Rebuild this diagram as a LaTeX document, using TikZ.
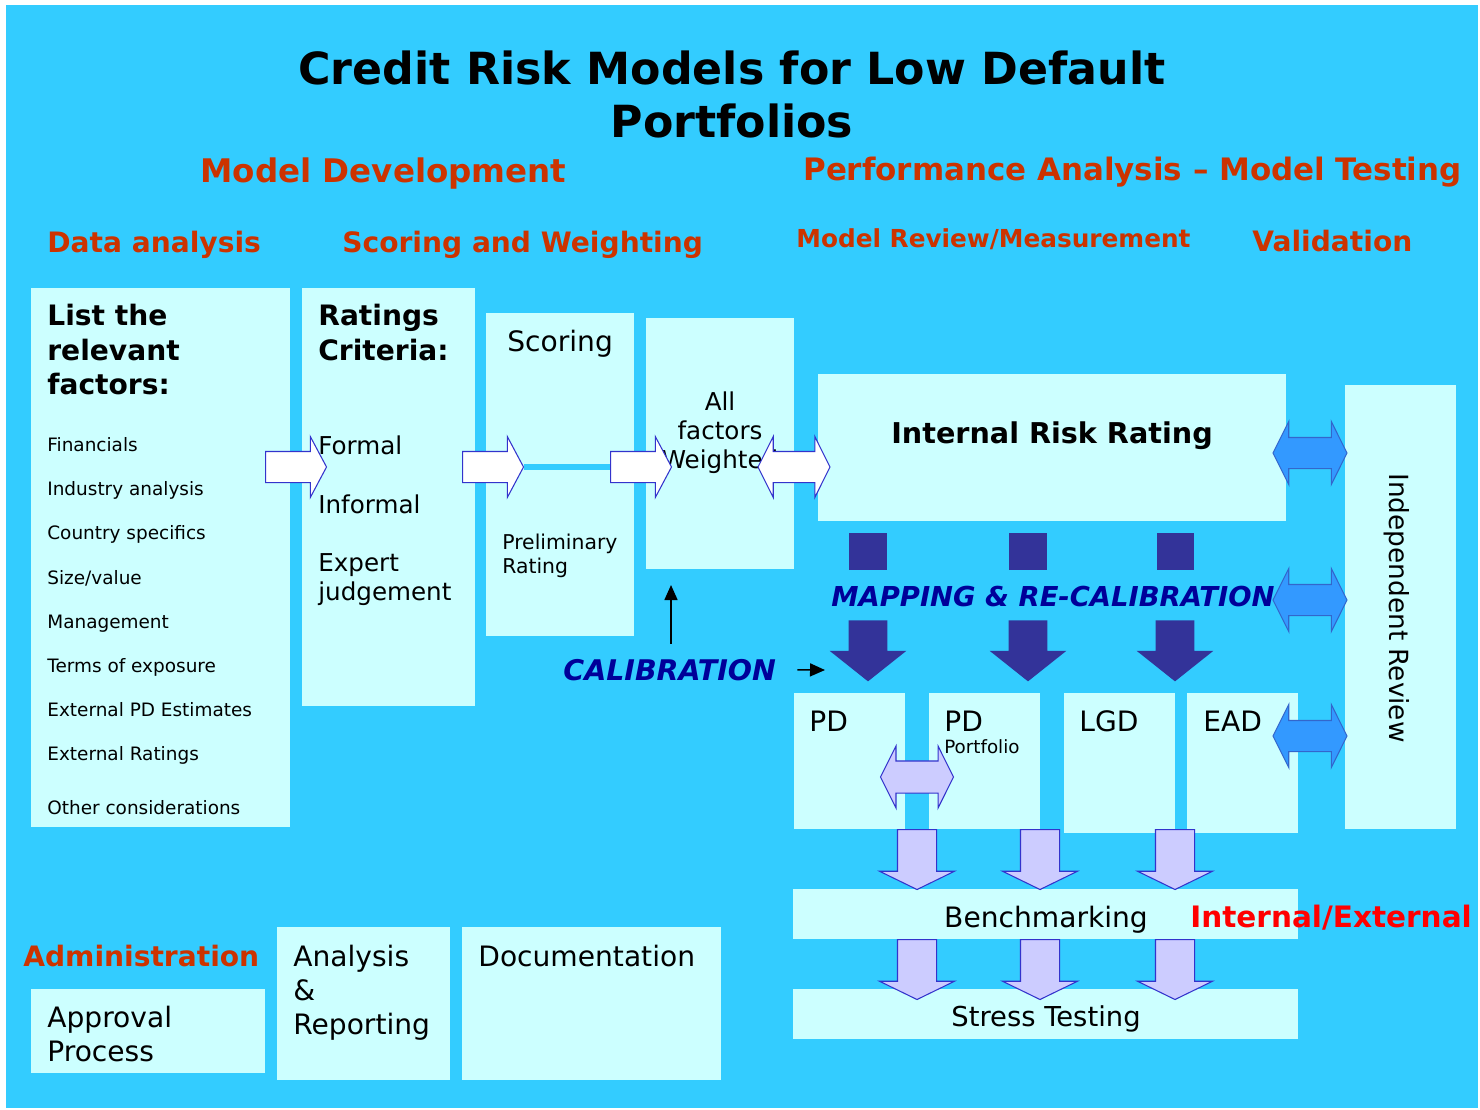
\documentclass[tikz,border=0pt]{standalone}
\usepackage{fontspec}
\setmainfont{DejaVu Sans}
\usetikzlibrary{shapes.arrows,arrows.meta,fit}

\definecolor{sky}{HTML}{33CCFF}
\definecolor{pale}{HTML}{CCFFFF}
\definecolor{rust}{HTML}{CC3300}
\definecolor{navy}{HTML}{333399}
\definecolor{ink}{HTML}{000099}
\definecolor{azure}{HTML}{3399FF}
\definecolor{azureline}{HTML}{3366CC}
\definecolor{lilac}{HTML}{CCCCFF}
\definecolor{edge}{HTML}{3333CC}
\newcommand{\fsize}[2]{\fontsize{#1pt}{#2pt}\selectfont}

\begin{document}
\begin{tikzpicture}[x=0.02cm,y=-0.02cm]
  \tikzstyle{box}=[fill=pale,inner sep=0pt]
  \tikzstyle{txt}=[inner sep=0pt,anchor=base west]
  \tikzstyle{lines}=[inner sep=0pt,anchor=north west,align=left]
  \tikzstyle{head}=[txt,text=rust,font=\bfseries\fsize{16}{19.6}]
  \tikzstyle{calfont}=[txt,text=ink,font=\bfseries\itshape\fsize{16.2}{19}]
  \tikzstyle{warrow}=[single arrow,draw=edge,fill=white,line width=0.6pt,
      minimum height=1.22cm,minimum width=1.2cm,single arrow head extend=0.3cm,
      single arrow tip angle=124,inner xsep=0pt,inner ysep=0.3cm,anchor=tail]
  \tikzstyle{wdouble}=[double arrow,draw=edge,fill=white,line width=0.6pt,
      minimum height=1.44cm,minimum width=1.2cm,double arrow head extend=0.3cm,
      double arrow tip angle=127,inner xsep=0pt,inner ysep=0.3cm]
  \tikzstyle{bdouble}=[double arrow,draw=azureline,fill=azure,line width=0.6pt,
      minimum height=1.48cm,minimum width=1.24cm,double arrow head extend=0.32cm,
      double arrow tip angle=127,inner xsep=0pt,inner ysep=0.3cm]
  \tikzstyle{ldouble}=[double arrow,draw=edge,fill=lilac,line width=0.6pt,
      minimum height=1.46cm,minimum width=1.22cm,double arrow head extend=0.3cm,
      double arrow tip angle=127,inner xsep=0pt,inner ysep=0.31cm]
  \tikzstyle{ldown}=[single arrow,draw=edge,fill=lilac,line width=0.6pt,rotate=-90,
      minimum height=1.2cm,minimum width=1.48cm,single arrow head extend=0.36cm,
      single arrow tip angle=128,inner xsep=0pt,inner ysep=0.38cm,anchor=tail]
  \tikzstyle{ndown}=[single arrow,fill=navy,rotate=-90,
      minimum height=1.22cm,minimum width=1.52cm,single arrow head extend=0.38cm,
      single arrow tip angle=103,inner xsep=0pt,inner ysep=0.38cm,anchor=tail]
  \tikzstyle{pointer}=[-{Triangle[length=0.3cm,width=0.26cm]},line width=0.9pt]

  % background
  \fill[white] (0,0) rectangle (1480,1109);
  \fill[sky] (6,5) rectangle (1478,1108);
  \useasboundingbox (0,0) rectangle (1480,1109);

  % titles
  \node[lines,anchor=north,align=center,font=\bfseries\fsize{25.2}{30}] (title) at (732,51)
       {Credit Risk Models for Low Default\\Portfolios};
  \node[head,font=\bfseries\fsize{18.5}{23}] (dev) at (200,182) {Model Development};
  \node[head,font=\bfseries\fsize{17.6}{21}] (perf) at (803,180) {Performance Analysis -- Model Testing};
  \node[head] (data) at (47,252) {Data analysis};
  \node[head] (sw) at (342,252) {Scoring and Weighting};
  \node[head,font=\bfseries\fsize{14.1}{17}] (review) at (796,247) {Model Review/Measurement};
  \node[head] (valid) at (1252,251) {Validation};

  % boxes
  \node[box,fit={(31,288) (290,827)}] (list) {};
  \node[box,fit={(302,288) (475,706)}] (crit) {};
  \node[box,fit={(486,313) (634,636)}] (score) {};
  \node[box,fit={(646,318) (794,569)}] (allf) {};
  \node[box,fit={(818,374) (1286,521)}] (irr) {};
  \node[box,fit={(1345,385) (1456,829)}] (indep) {};
  \node[box,fit={(794,693) (905,829)}] (pd) {};
  \node[box,fit={(929,693) (1040,829)}] (pdp) {};
  \node[box,fit={(1064,693) (1175,833)}] (lgd) {};
  \node[box,fit={(1187,693) (1298,833)}] (ead) {};
  \node[box,fit={(793,889) (1298,939)}] (bench) {};
  \node[box,fit={(793,989) (1298,1039)}] (stress) {};
  \node[box,fit={(31,989) (265,1073)}] (appr) {};
  \node[box,fit={(277,927) (450,1080)}] (anal) {};
  \node[box,fit={(462,927) (721,1080)}] (docu) {};

  % texts under the arrows
  \node[lines,font=\bfseries\fsize{16}{19.6}] (listhd) at (47,304) {List the\\relevant\\factors:};
  \foreach \y/\t [count=\i] in {451/Financials,495/Industry analysis,539/Country specifics,
      584/{Size/value},628/Management,672/Terms of exposure,716/External PD Estimates,
      760/External Ratings,814/Other considerations}
    \node[txt,font=\fsize{10.5}{13}] (item\i) at (47,\y) {\t};
  \node[lines,font=\bfseries\fsize{16}{19.6}] (crithd) at (318,304) {Ratings\\Criteria:};
  \node[txt,font=\fsize{16}{19.6}] (scorehd) at (507,351) {Scoring};
  \node[lines,font=\fsize{11.6}{13.6}] (prelim) at (502,534) {Preliminary\\Rating};
  \node[lines,anchor=north,align=center,font=\fsize{14}{16.7}] (weighted) at (720,391)
       {All\\factors\\Weighted};
  \node[txt,anchor=base,font=\bfseries\fsize{16.3}{19}] (irrtext) at (1052,443) {Internal Risk Rating};
  \node[inner sep=0pt,rotate=-90,font=\fsize{15}{18}] (indeptext) at (1397,608) {Independent Review};

  % scoring chain
  \node[warrow] (a1) at (265,467) {};
  \node[warrow] (a2) at (462,467) {};
  \node[warrow] (a3) at (610,467) {};
  \draw[sky,line width=3.4pt] (a2.tip) -- (a3.tail);
  \node[wdouble] (a4) at (794,467) {};

  % review links
  \node[bdouble] (r1) at (1310,453) {};
  \node[bdouble] (r2) at (1310,600) {};
  \node[bdouble] (r3) at (1310,736) {};

  % mapping
  \node[fill=navy,inner sep=0pt,fit={(849,533) (887,570)}] (m1) {};
  \node[fill=navy,inner sep=0pt,fit={(1009,533) (1047,570)}] (m2) {};
  \node[fill=navy,inner sep=0pt,fit={(1157,533) (1194,570)}] (m3) {};
  \node[ndown] (n1) at (868,620) {};
  \node[ndown] (n2) at (1028,620) {};
  \node[ndown] (n3) at (1175,620) {};
  \node[calfont,font=\bfseries\itshape\fsize{15.6}{18}] (mapping) at (831,606) {MAPPING \& RE-CALIBRATION};
  \node[calfont] (calib) at (563,680) {CALIBRATION};
  \coordinate (calup) at (671,585);
  \coordinate (calend) at (825,670);
  \draw[pointer,shorten <=0.3cm] (calib.north -| calup) -- (calup);
  \draw[pointer,shorten <=0.42cm] (calib.east) -- (calend);

  % testing
  \node[ldouble] (pp) at (917,777) {};
  \node[ldown] (b1) at (917,829) {};
  \node[ldown] (b2) at (1040,829) {};
  \node[ldown] (b3) at (1175,829) {};
  \node[ldown] (s1) at (917,939) {};
  \node[ldown] (s2) at (1040,939) {};
  \node[ldown] (s3) at (1175,939) {};

  % texts over the arrows
  \node[txt,font=\fsize{14}{16.4}] (formal) at (318,454) {Formal};
  \node[txt,font=\fsize{14}{16.4}] (informal) at (318,513) {Informal};
  \node[lines,font=\fsize{14}{16.4}] (expert) at (318,553) {Expert\\judgement};
  \node[txt,font=\fsize{16}{19.6}] (pdtext) at (809,731) {PD};
  \node[txt,font=\fsize{16}{19.6}] (pdptext) at (944,731) {PD};
  \node[txt,font=\fsize{10.4}{12}] (portf) at (944,753) {Portfolio};
  \node[txt,font=\fsize{16}{19.6}] (lgdtext) at (1079,731) {LGD};
  \node[txt,font=\fsize{16}{19.6}] (eadtext) at (1203,731) {EAD};
  \node[txt,anchor=base,font=\fsize{16}{19.6}] (benchtext) at (1046,927) {Benchmarking};
  \node[txt,text=red,font=\bfseries\fsize{16.8}{19.6}] (intext) at (1190,927) {Internal/External};
  \node[txt,anchor=base,font=\fsize{15.6}{19}] (stresstext) at (1046,1026) {Stress Testing};

  % administration
  \node[head] (admin) at (23,966) {Administration};
  \node[lines,font=\fsize{16}{19.3}] (apprtext) at (47,1006) {Approval\\Process};
  \node[lines,font=\fsize{16}{19.3}] (analtext) at (293,945) {Analysis\\\&\\Reporting};
  \node[txt,font=\fsize{16}{19.6}] (docutext) at (478,966) {Documentation};
\end{tikzpicture}
\end{document}
